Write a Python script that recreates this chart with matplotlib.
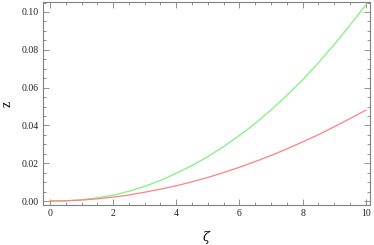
import matplotlib
matplotlib.use("Agg")
import matplotlib.pyplot as plt
from matplotlib.ticker import MultipleLocator, FormatStrFormatter

zeta = [0, 0.5, 1, 1.5, 2, 2.5, 3, 3.5, 4, 4.5, 5, 5.5, 6, 6.5, 7, 7.5, 8, 8.5, 9, 9.5, 10]
z_green = [0, 0.00017, 0.00073, 0.00175, 0.0031, 0.0052, 0.0078, 0.0109, 0.0147, 0.0188,
           0.0235, 0.0289, 0.0347, 0.0411, 0.0482, 0.0559, 0.0641, 0.0731, 0.0828, 0.0930, 0.1037]
z_red = [0, 0.00014, 0.00054, 0.00119, 0.0021, 0.0032, 0.0047, 0.0063, 0.0081, 0.0102,
         0.0125, 0.0151, 0.0179, 0.0209, 0.0241, 0.0276, 0.0313, 0.0351, 0.0393, 0.0436, 0.0481]

fig = plt.figure(figsize=(3.74, 2.45), dpi=100)
ax = fig.add_axes([0.115, 0.163, 0.874, 0.829])
ax.plot(zeta, z_green, color='#80f080', lw=0.9)
ax.plot(zeta, z_red, color='#ff8080', lw=0.9)

ax.set_xlim(-0.22, 10.13)
ax.set_ylim(-0.0021, 0.1053)
ax.xaxis.set_major_locator(MultipleLocator(2))
ax.xaxis.set_minor_locator(MultipleLocator(0.5))
ax.yaxis.set_major_locator(MultipleLocator(0.02))
ax.yaxis.set_minor_locator(MultipleLocator(0.005))
ax.yaxis.set_major_formatter(FormatStrFormatter('%.2f'))

frame_col = '#808080'
for s in ax.spines.values():
    s.set_color(frame_col)
    s.set_linewidth(0.8)
ax.tick_params(which='both', direction='in', top=True, right=True, color=frame_col,
               labelsize=7, labelcolor='#222222', width=0.6)
ax.tick_params(which='major', length=4, pad=3)
ax.tick_params(which='minor', length=2)
for lab in ax.get_xticklabels() + ax.get_yticklabels():
    lab.set_family('Liberation Serif')

ax.set_xlabel('ζ', family='DejaVu Serif', style='italic', fontsize=9, labelpad=9)
ax.set_ylabel('z', family='Liberation Serif', fontsize=10, labelpad=6)

fig.savefig('out.png', dpi=100)
